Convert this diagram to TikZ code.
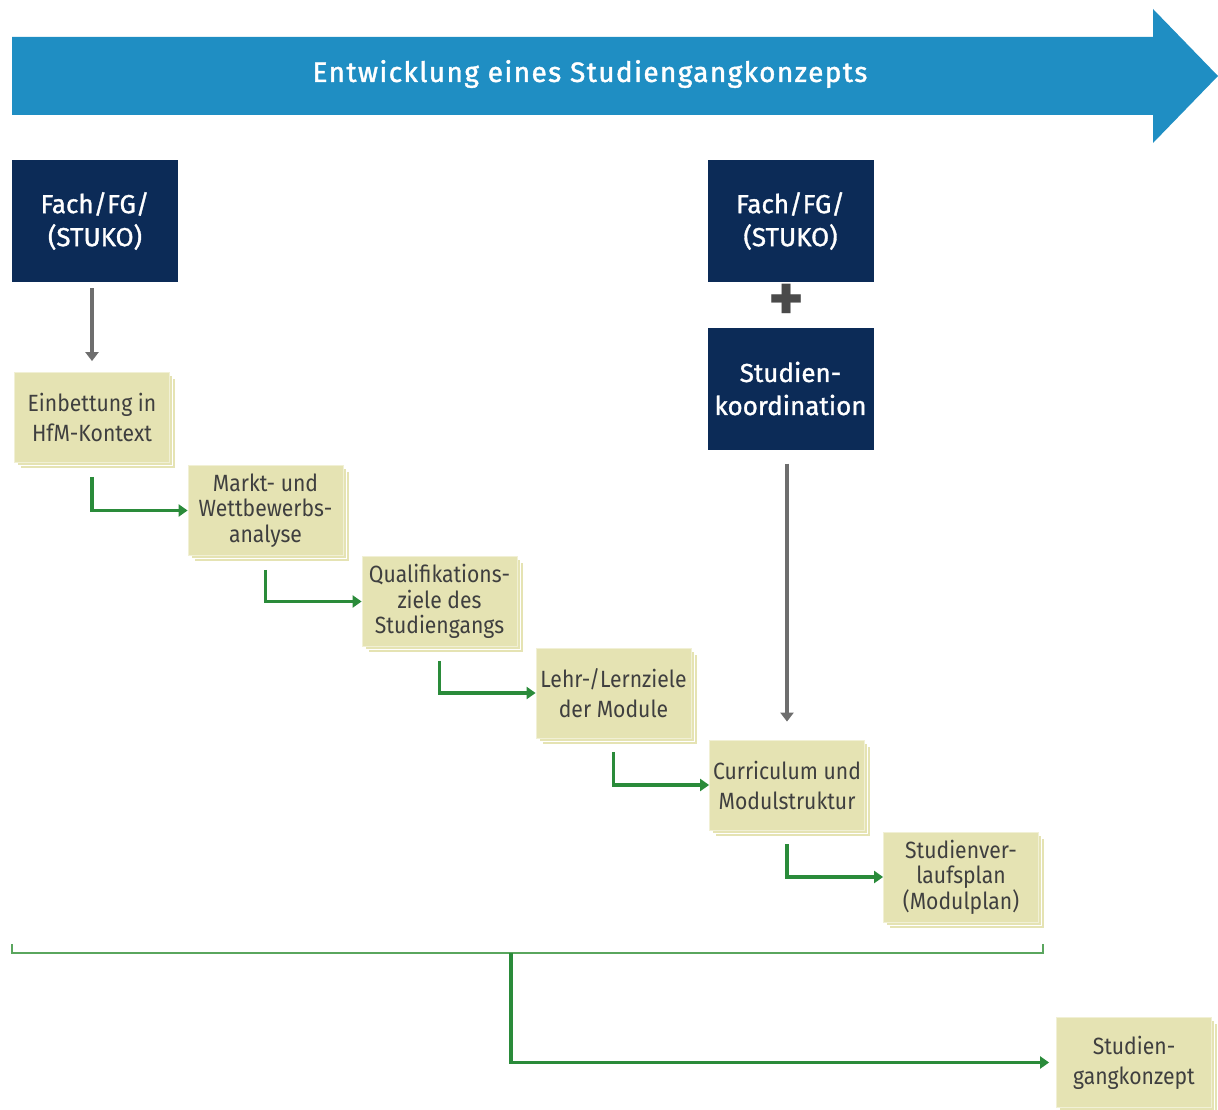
\documentclass[tikz,border=0pt]{standalone}
\usepackage{fontspec}
\setmainfont{Fira Sans}
\newfontfamily\condfont[FakeStretch=0.9]{Fira Sans}
\newfontfamily\medfont[FakeBold=1.2]{Fira Sans}
\newfontfamily\titlefont[FakeBold=1.5,LetterSpace=5]{Fira Sans}
\usetikzlibrary{arrows.meta,shadows}
\definecolor{bandblue}{HTML}{1F8EC3}
\definecolor{navy}{HTML}{0C2B57}
\definecolor{boxfill}{HTML}{E5E3B3}
\definecolor{boxtext}{HTML}{3F3F3F}
\definecolor{flowgreen}{HTML}{2A8B3A}
\definecolor{brackgreen}{HTML}{5AA65E}
\definecolor{graya}{HTML}{6E6E6E}
\definecolor{plusgray}{HTML}{4A4A4A}
\begin{document}
\begin{tikzpicture}[x=1pt,y=-1pt,
  darkbox/.style={fill=navy, text=white, minimum width=166pt, minimum height=122pt,
    inner sep=0pt, align=center, font=\medfont\fontsize{26}{33}\selectfont},
  stepbox/.style={fill=boxfill, draw=white!45!boxfill, line width=0.8pt,
    minimum width=155pt, minimum height=90pt, inner sep=0pt, align=center, text=boxtext,
    double copy shadow={shadow xshift=3pt, shadow yshift=-3pt, fill=boxfill,
      draw=white, line width=0.8pt}},
  twoline/.style={font=\condfont\fontsize{23.5}{30}\selectfont},
  threeline/.style={font=\condfont\fontsize{23.5}{25.5}\selectfont},
  grayarrow/.style={draw=graya, line width=3.2pt, -{Triangle[length=9pt,width=13pt]}},
  flow/.style={draw=flowgreen, line width=3.4pt, -{Triangle[length=9pt,width=12pt]}},
  bracket/.style={draw=brackgreen, line width=2.6pt}
]
\useasboundingbox (0,0) rectangle (1218,1110);

% big arrow
\fill[bandblue] (12,37) -- (1153,37) -- (1153,9) -- (1218,76) -- (1153,143)
  -- (1153,115) -- (12,115) -- cycle;
\node[text=white, font=\titlefont\fontsize{28}{30}\selectfont] (title) at (590,74)
  {Entwicklung eines Studiengangkonzepts};

% dark boxes
\node[darkbox] (f1) at (95,221) {Fach/FG/\\(STUKO)};
\node[darkbox] (f2) at (790.5,221) {Fach/FG/\\(STUKO)};
\node[text=plusgray, font=\fontsize{68}{68}\selectfont\bfseries, inner sep=0pt] (plus) at (787,303) {+};
\node[darkbox] (s2) at (790.5,388.5) {Studien-\\koordination};

% step boxes
\node[stepbox, twoline] (b1) at (92,417.5) {Einbettung in\\HfM-Kontext};
\node[stepbox, threeline] (b2) at (265.5,510.5) {Markt- und\\Wettbewerbs-\\analyse};
\node[stepbox, threeline] (b3) at (439.5,601.5) {Qualifikations-\\ziele des\\Studiengangs};
\node[stepbox, twoline] (b4) at (613.5,693) {Lehr-/Lernziele\\der Module};
\node[stepbox, twoline] (b5) at (787,785) {Curriculum und\\Modulstruktur};
\node[stepbox, threeline] (b6) at (961,877) {Studienver-\\laufsplan\\(Modulplan)};
\node[stepbox, twoline] (b7) at (1134,1062.5) {Studien-\\gangkonzept};

% gray arrows
\draw[grayarrow, shorten <=6pt, shorten >=11pt] (b1.north |- f1.south) -- (b1.north);
\draw[grayarrow, shorten <=14pt, shorten >=18pt] (s2.south -| b5.north) -- (b5.north);

% green flow
\draw[flow, shorten <=14pt] (b1.south) |- (b2.west);
\draw[flow, shorten <=14pt] (b2.south) |- (b3.west);
\draw[flow, shorten <=14pt] (b3.south) |- (b4.west);
\draw[flow, shorten <=14pt] (b4.south) |- (b5.west);
\draw[flow, shorten <=14pt] (b5.south) |- (b6.west);

% bracket
\coordinate (bl) at (12,944);
\coordinate (br) at (1043,944);
\coordinate (bm) at (511,953);
\draw[bracket] (bl) -- (12,953) -- (1043,953) -- (br);
\draw[flow, shorten >=7pt] (bm) |- (b7.west);
\end{tikzpicture}
\end{document}
